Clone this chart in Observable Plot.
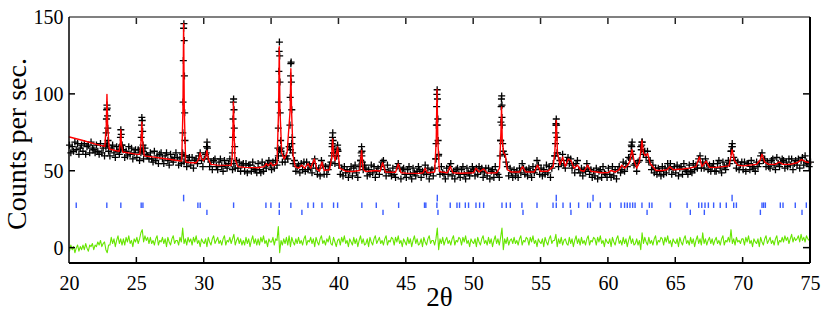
<!DOCTYPE html>
<html>
<head>
<meta charset="utf-8">
<script src="https://cdn.jsdelivr.net/npm/d3@7"></script>
<script src="https://cdn.jsdelivr.net/npm/@observablehq/plot@0.6"></script>
<style>
  html, body { margin: 0; padding: 0; background: #fff; }
  #chart { width: 830px; height: 322px; }
</style>
</head>
<body>
<div id="chart"></div>
<script>
// ---- data ----
const xTicks = [20, 25, 30, 35, 40, 45, 50, 55, 60, 65, 70, 75];
const yTicks = [0, 50, 100, 150];
const gridStart = 20, gridStep = 0.1;

// observed counts, sampled every 0.1 deg from 20 to 75
const observed = [
  67,62,66,63,69,64,68,61,65,67,
  63,68,61,66,67,62,69,65,64,62,
  67,63,61,68,62,65,60,66,67,63,
  60,65,67,62,59,66,63,61,64,67,
  64,59,63,60,66,61,65,58,62,64,
  59,64,57,62,63,58,65,61,60,58,
  62,58,56,63,57,60,55,61,62,58,
  55,60,62,57,54,61,58,56,59,62,
  59,54,58,55,61,56,60,53,57,59,
  54,59,52,57,58,55,60,62,57,53,
  58,61,66,58,53,56,51,57,58,53,
  51,56,58,53,50,57,54,52,55,58,
  55,51,55,52,57,52,56,50,54,55,
  50,55,49,54,54,50,56,52,51,49,
  55,51,49,56,50,54,52,55,57,54,
  51,56,52,57,54,60,64,65,56,60,
  56,60,58,66,64,68,55,57,50,53,
  54,49,55,51,56,50,56,51,54,52,
  49,55,58,52,48,52,47,57,54,48,
  53,48,51,54,56,68,62,55,60,64,
  54,48,52,47,53,49,51,46,50,53,
  47,52,54,49,46,53,57,60,51,54,
  52,47,51,48,54,49,53,46,50,52,
  48,53,56,57,51,47,54,50,49,47,
  52,48,46,53,55,52,45,51,52,48,
  46,51,53,48,45,52,49,47,50,53,
  51,46,50,49,54,48,52,45,49,51,
  47,52,58,80,61,48,53,49,48,45,
  52,48,53,55,47,50,45,51,52,48,
  46,51,53,48,45,52,49,47,50,53,
  51,47,52,48,53,50,52,46,49,52,
  47,52,45,50,51,46,53,49,48,46,
  70,85,63,61,56,53,47,52,49,46,
  51,47,50,46,52,49,55,52,48,51,
  47,52,50,46,53,49,51,57,54,48,
  52,47,51,48,54,49,53,46,52,55,
  60,80,62,53,57,55,61,54,52,57,
  59,55,58,52,54,49,55,57,51,49,
  52,47,51,50,55,52,48,51,46,50,
  47,52,45,50,51,46,53,49,48,46,
  52,48,46,53,47,51,45,51,53,49,
  51,56,50,55,53,59,58,67,61,54,
  55,50,56,57,66,69,61,63,59,63,
  56,57,51,54,49,52,48,52,50,47,
  53,48,52,49,55,52,55,48,51,53,
  49,54,47,52,53,48,55,51,50,48,
  54,50,49,55,51,54,52,58,60,52,
  56,52,58,55,51,54,50,53,55,50,
  50,55,57,52,49,56,53,51,54,57,
  55,63,66,59,57,52,56,51,54,56,
  51,56,50,55,55,51,57,53,52,50,
  56,53,55,60,62,57,58,53,56,53,
  52,57,58,54,51,59,55,53,56,58,
  57,52,56,53,58,54,58,51,55,57,
  54,58,52,57,59,54,60,56,55,53,
  56
];

// observed points on the flanks of the strong reflections [2theta, counts]
const observedPeaks = [
  [22.70,68],[22.72,75],[22.74,84],[22.76,90],[22.78,93],[22.80,91],[22.82,86],[22.84,78],[22.86,70],
  [23.75,66],[23.78,72],[23.81,77],[23.84,74],[23.87,67],
  [25.29,65],[25.32,72],[25.35,80],[25.37,85],[25.40,83],[25.43,76],[25.46,67],
  [28.39,62],[28.41,75],[28.43,95],[28.45,122],[28.47,143],[28.49,146],[28.51,135],[28.53,112],[28.55,88],[28.57,70],[28.60,60],
  [30.15,62],[30.18,66],[30.21,69],[30.24,65],
  [32.09,62],[32.12,72],[32.14,84],[32.16,95],[32.18,97],[32.21,90],[32.23,78],[32.26,66],
  [35.47,65],[35.50,78],[35.52,95],[35.54,115],[35.56,128],[35.58,134],[35.60,125],[35.62,108],[35.64,88],[35.67,70],[35.70,63],
  [36.33,66],[36.36,80],[36.38,98],[36.41,112],[36.43,120],[36.45,121],[36.47,108],[36.50,90],[36.53,72],[36.56,62],
  [39.46,60],[39.49,66],[39.52,72],[39.54,75],[39.57,70],[39.60,62],
  [39.84,60],[39.87,65],[39.90,67],[39.93,63],
  [41.62,57],[41.65,62],[41.68,66],[41.71,63],[41.74,56],
  [47.18,58],[47.21,68],[47.23,80],[47.25,92],[47.27,100],[47.29,103],[47.31,97],[47.34,84],[47.36,70],[47.39,60],
  [51.97,60],[52.00,70],[52.02,82],[52.04,92],[52.06,97],[52.08,99],[52.10,93],[52.12,80],[52.15,68],
  [56.04,60],[56.07,68],[56.09,75],[56.11,81],[56.13,84],[56.15,80],[56.18,72],[56.21,62],
  [61.70,63],[61.73,66],[61.76,69],
  [62.44,64],[62.47,67],[62.50,69],
  [69.12,63],[69.16,66],[69.19,68]
];

// calculated profile vertices [2theta, counts]
const calculated = [
  [20,72.3],[21,70],[22,67.5],[22.62,66.2],[22.73,80],[22.78,100],[22.83,80],[22.95,64.5],
  [23.5,63.3],[23.68,63],[23.77,68],[23.81,77],[23.85,68],[23.95,62.5],[24.5,61.8],[25,61],
  [25.22,61],[25.32,70],[25.37,82],[25.42,70],[25.55,60],[26,59.5],[27,58.3],[28,57],
  [28.33,56.7],[28.42,90],[28.47,146],[28.52,90],[28.62,56],[29,55.5],[29.4,55.5],[29.6,58],
  [29.7,62],[29.8,58],[29.95,57],[30.1,59],[30.2,63.6],[30.3,58],[30.5,54.5],[31,54],[32,53.8],
  [32.08,60],[32.13,78],[32.17,95],[32.21,78],[32.28,58],[32.5,53],[33,52.5],[34,52.3],
  [34.45,53],[34.6,55],[34.75,53.5],[34.95,55.5],[35.1,53.5],[35.4,55],[35.52,90],[35.57,131],
  [35.62,90],[35.75,62],[35.94,58],[36.15,62],[36.38,90],[36.43,116.7],[36.48,90],[36.6,60],
  [36.75,53],[37,52],[37.25,54],[37.45,52],[37.7,55],[37.9,52],[38.17,58],[38.35,51.5],
  [38.55,50],[38.74,56],[38.9,50.5],[39.3,51],[39.45,58],[39.53,71],[39.62,60],[39.72,57],
  [39.9,65.8],[40.05,52],[40.5,50],[41,49.8],[41.55,50.5],[41.68,63.6],[41.8,51],[42,49.8],
  [42.77,50.5],[43.05,50],[43.24,55.5],[43.45,49.5],[44.2,49.3],[44.4,54.7],[44.6,49],
  [45,48.8],[46,48.6],[46.25,49],[46.4,52],[46.55,49],[47.1,49.5],[47.22,70],[47.28,103.2],
  [47.34,70],[47.45,50],[47.6,49.5],[48.05,49],[48.26,53.2],[48.45,49],[49,48.7],[50,49],
  [50.17,52],[50.4,49.5],[50.74,51.5],[51,48.8],[51.7,49],[51.92,52],[52.02,75],[52.07,91.8],
  [52.12,70],[52.22,62],[52.35,60.4],[52.5,51],[52.8,49.5],[53.4,49.5],[53.63,53],[53.85,49.5],
  [54.5,49.5],[54.74,54],[54.95,50],[55.5,50],[55.9,53],[56.02,62],[56.13,83.1],[56.22,62],
  [56.4,54],[56.6,59.3],[56.8,53],[57.02,58],[57.22,57],[57.45,52],[57.7,54],[57.95,50.5],
  [58.2,50],[58.45,54],[58.7,50],[59.5,49],[60,49.2],[60.19,50.5],[60.5,49.5],[60.8,51],
  [61,54],[61.2,52],[61.45,54],[61.6,57],[61.75,64],[61.9,57],[62.1,52],[62.3,56],[62.42,64],
  [62.49,70],[62.6,62],[62.75,60],[62.91,61.5],[63.1,55],[63.53,50.5],[64,50.5],[64.35,51],
  [64.57,53],[64.8,51],[65.5,51.5],[66,52],[66.5,53],[66.75,59.3],[66.95,53],[67.25,56.6],
  [67.5,52.5],[68,52.5],[68.5,53],[68.95,53.5],[69.1,60],[69.18,64],[69.35,57],[69.6,54],
  [70,53.5],[71,54.5],[71.25,57],[71.4,61],[71.6,56],[71.9,54.5],[72.4,54.5],[72.68,56],
  [72.95,54.5],[73.5,54.5],[74,55.5],[74.34,57.6],[74.7,56],[75,55.5]
];

// difference curve (obs - calc, offset), sampled every 0.1 deg
const difference = [
  -2,2,-1,1,-3,0,2,-2,1,-1,
  2,-1,3,0,-2,2,1,3,-1,2,
  1,4,2,5,1,3,4,-1,-3,2,
  2,7,3,6,1,5,8,3,6,2,
  6,2,7,4,8,3,5,1,6,4,
  7,3,6,10,12,4,8,5,7,3,
  7,3,5,2,6,8,2,5,4,7,
  3,6,1,7,4,2,6,8,3,5,
  5,2,7,4,13,3,6,2,7,4,
  6,2,7,4,8,3,5,1,6,4,
  3,6,1,7,4,2,6,8,3,5,
  7,3,5,2,6,8,2,5,4,7,
  3,6,9,2,5,7,3,6,2,5,
  2,7,3,6,1,5,8,3,6,2,
  6,2,7,4,8,3,5,1,6,4,
  4,7,2,6,5,14,-3,5,2,6,
  3,7,2,8,1,7,4,2,6,3,
  7,3,5,2,6,8,2,5,4,7,
  3,6,1,7,4,2,6,8,3,5,
  2,6,4,8,3,2,7,4,1,5,
  6,2,7,4,8,3,5,1,6,4,
  2,7,3,6,1,5,8,3,6,2,
  3,6,1,7,4,2,6,8,3,5,
  7,3,5,2,6,8,2,5,4,7,
  6,2,7,4,8,3,5,1,6,4,
  2,7,3,6,1,5,8,3,6,2,
  3,6,1,7,4,2,6,8,3,5,
  5,2,6,13,-1,6,3,7,2,5,
  7,3,5,2,6,8,2,5,4,7,
  6,2,7,4,8,3,5,1,6,4,
  3,6,1,7,4,2,6,8,3,5,
  2,7,3,6,1,5,8,3,6,2,
  7,13,-1,6,3,7,2,5,6,3,
  7,3,5,2,6,8,2,5,4,7,
  6,2,7,4,8,3,5,1,6,4,
  3,6,1,7,4,2,6,8,3,5,
  5,9,1,6,3,7,2,5,6,3,
  2,7,3,6,1,5,8,3,6,2,
  7,3,5,2,6,8,2,5,4,7,
  6,2,7,4,8,3,5,1,6,4,
  3,6,1,7,4,2,6,8,3,5,
  2,7,3,6,1,5,8,3,6,2,
  3,6,2,5,-1,10,3,7,4,2,
  7,3,5,2,6,8,2,5,4,7,
  6,2,7,4,8,3,5,1,6,4,
  3,6,1,7,4,2,6,8,3,5,
  2,7,3,6,1,5,8,3,6,2,
  10,3,6,2,5,7,3,6,2,5,
  7,3,5,2,6,8,2,5,4,7,
  4,12,3,6,2,7,4,5,3,6,
  6,2,7,4,8,3,5,1,6,4,
  3,6,1,7,4,2,6,8,3,5,
  7,3,5,2,6,8,2,5,4,7,
  4,8,5,7,3,6,9,4,7,5,
  6,8,4,9,5,7,4,8,6,5,
  6
];

// Bragg reflection positions (three rows)
const reflectionsUpper = [28.47, 47.3, 56.13, 58.86, 69.18];
const reflectionsMiddle = [
  20.5, 22.77, 23.81, 25.32, 25.45, 29.53, 29.7, 32.18, 34.58, 34.95, 35.57, 36.43,
  37.7, 38.11, 38.74, 39.6, 39.9, 41.7, 42.77, 44.43, 46.35, 46.45, 47.27,
  48.26, 48.76, 48.95, 49.38, 49.62, 50.17, 50.44, 50.74, 52.1, 52.42, 52.72, 53.58,
  54.7, 55.89, 56.13, 56.63, 57.17, 57.79, 58.46, 58.66, 59.4, 60.14, 60.94, 61.2,
  61.4, 61.6, 61.8, 61.98, 62.49, 63.04, 63.23, 64.6, 65.84, 66.7, 66.93, 67.17,
  67.42, 67.81, 68.3, 68.75, 69.3, 69.5, 71.4, 71.52, 71.65, 72.76, 72.96, 73.87, 74.69
];
const reflectionsLower = [30.2, 35.57, 37.25, 43.27, 47.35, 53.66, 57.22, 62.87, 66.08, 67.12, 71.28, 74.37];

// ---- chart ----
const serif = "Liberation Serif, Times New Roman, serif";
const obsGrid = observed.map((v, i) => ({x: gridStart + i * gridStep, y: v}));
const diffGrid = difference.map((v, i) => ({x: gridStart + i * gridStep, y: v}));
const blue = "#3a5cff";

function frame(index, scales, values, dim) {
  const {x, y} = scales;
  const L = dim.marginLeft, R = dim.width - dim.marginRight;
  const T = dim.marginTop, B = dim.height - dim.marginBottom;
  const g = d3.create("svg:g").attr("fill", "none");
  const inner = xTicks.filter(t => t > 20 && t < 75);
  for (const t of inner) {
    g.append("line").attr("x1", x(t)).attr("x2", x(t)).attr("y1", B).attr("y2", B - 6).attr("stroke", "#000").attr("stroke-width", 1.5);
    g.append("line").attr("x1", x(t)).attr("x2", x(t)).attr("y1", T).attr("y2", T + 7).attr("stroke", "#222").attr("stroke-width", 1.5);
  }
  for (const t of yTicks.filter(t => t < 150)) {
    g.append("line").attr("x1", L).attr("x2", L + 6).attr("y1", y(t)).attr("y2", y(t)).attr("stroke", "#000").attr("stroke-width", 1.5);
    g.append("line").attr("x1", R).attr("x2", R - 7).attr("y1", y(t)).attr("y2", y(t)).attr("stroke", "#000").attr("stroke-width", 1.5);
  }
  g.append("line").attr("x1", L).attr("x2", R).attr("y1", T).attr("y2", T).attr("stroke", "#808080").attr("stroke-width", 2);
  g.append("line").attr("x1", L).attr("x2", R).attr("y1", B).attr("y2", B).attr("stroke", "#000").attr("stroke-width", 2);
  g.append("line").attr("x1", L).attr("x2", L).attr("y1", T).attr("y2", B).attr("stroke", "#000").attr("stroke-width", 1.5);
  g.append("line").attr("x1", R).attr("x2", R).attr("y1", T).attr("y2", B).attr("stroke", "#000").attr("stroke-width", 2);
  g.append("text").attr("x", (L + R) / 2).attr("y", 306).attr("text-anchor", "middle")
    .attr("fill", "#000").attr("font-size", 27).attr("font-family", serif).text("2θ");
  g.append("text").attr("transform", `translate(26,${(T + B) / 2 + 4}) rotate(-90)`).attr("text-anchor", "middle")
    .attr("fill", "#000").attr("font-size", 28).attr("font-family", serif).text("Counts per sec.");
  return g.node();
}

const chart = Plot.plot({
  width: 830,
  height: 322,
  marginLeft: 69,
  marginRight: 20,
  marginTop: 17,
  marginBottom: 59,
  style: {fontFamily: serif, fontSize: "20px", background: "#fff", color: "#000"},
  x: {domain: [20, 75]},
  y: {domain: [-10, 150]},
  marks: [
    Plot.ruleX(reflectionsUpper, {x: d => d, y1: 30.1, y2: 34.4, stroke: blue, strokeWidth: 1.4}),
    Plot.ruleX(reflectionsMiddle, {x: d => d, y1: 25.8, y2: 29.4, stroke: blue, strokeWidth: 1.4}),
    Plot.ruleX(reflectionsLower, {x: d => d, y1: 21.2, y2: 24.7, stroke: blue, strokeWidth: 1.4}),
    Plot.line(diffGrid, {x: "x", y: "y", stroke: "#66e600", strokeWidth: 1.1}),
    Plot.dot(obsGrid, {x: "x", y: "y", symbol: "plus", r: 2.4, stroke: "#000", strokeWidth: 1.3}),
    Plot.dot(observedPeaks, {x: d => d[0], y: d => d[1], symbol: "plus", r: 2.4, stroke: "#000", strokeWidth: 1.3}),
    Plot.line(calculated, {x: d => d[0], y: d => d[1], stroke: "#ff0000", strokeWidth: 1.4}),
    Plot.axisX({ticks: xTicks, tickSize: 0, tickPadding: 12, label: null, fontSize: 20, fontFamily: serif}),
    Plot.axisY({ticks: yTicks, tickSize: 0, tickPadding: 6, label: null, fontSize: 20, fontFamily: serif}),
    frame
  ]
});
document.getElementById("chart").appendChild(chart);
</script>
</body>
</html>
